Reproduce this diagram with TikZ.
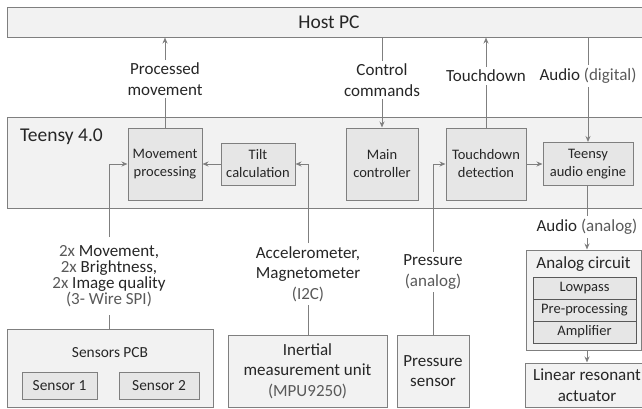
\documentclass[tikz,border=0pt]{standalone}
\usepackage{fontspec}
\setmainfont{Carlito}
\usepackage{xcolor}
\usetikzlibrary{arrows.meta}
\definecolor{linegray}{HTML}{7F7F7F}
\definecolor{fillout}{HTML}{F2F2F2}
\definecolor{fillin}{HTML}{E6E6E6}
\definecolor{txtdark}{HTML}{262626}
\definecolor{txtgray}{HTML}{595959}
\newcommand{\FTit}{\fontsize{19.5}{22}\selectfont}
\newcommand{\FTxt}{\fontsize{17}{20.5}\selectfont}
\newcommand{\FBlk}{\fontsize{14.5}{18}\selectfont}
\newcommand{\FSen}{\fontsize{15.4}{18}\selectfont}
\newcommand{\gtxt}[1]{\textcolor{txtgray}{#1}}

\begin{document}
\begin{tikzpicture}[x=1pt,y=-1pt]
\tikzstyle{marco}=[draw=linegray,fill=fillout,line width=1pt,inner sep=0pt,text=txtdark]
\tikzstyle{bloque}=[draw=linegray,fill=fillin,line width=1pt,inner sep=0pt,align=center,text=txtdark,font=\FBlk]
\tikzstyle{etapa}=[draw=txtgray,fill=fillin,line width=1pt,minimum width=103pt,minimum height=22pt,inner sep=0pt,font=\FBlk,text=txtdark]
\tikzstyle{rotulo}=[align=center,text=txtdark,font=\FTxt,inner sep=3pt]
\tikzstyle{flecha}=[linegray,line width=1pt,-{Stealth[length=6pt,width=5pt]}]

\useasboundingbox (0,0) rectangle (642,408);
\clip (0,0) rectangle (642,408);

% host and teensy
\node[marco,minimum width=644pt,minimum height=30pt,font=\FTit] (host) at (329,22) {Host PC};
\node[marco,minimum width=644pt,minimum height=91pt] (teensy) at (329,162.5) {};
\node[anchor=west,text=txtdark,font=\FTit,inner sep=0pt] (teensylbl) at (20,137) {Teensy 4.0};

\node[bloque,minimum width=74pt,minimum height=72pt] (mp) at (165,164) {Movement\\processing};
\node[bloque,minimum width=74pt,minimum height=42pt] (tilt) at (258,164) {Tilt\\calculation};
\node[bloque,minimum width=72pt,minimum height=72pt] (mainc) at (382,164) {Main\\controller};
\node[bloque,minimum width=80pt,minimum height=72pt] (td) at (486,164) {Touchdown\\detection};
\node[bloque,minimum width=90pt,minimum height=43pt] (tae) at (588,164) {Teensy\\audio engine};

% sensors
\node[marco,minimum width=206pt,minimum height=78pt] (pcb) at (110,368) {};
\node[text=txtdark,font=\FSen] (pcblbl) at (110,353) {Sensors PCB};
\node[bloque,font=\FSen,minimum width=75pt,minimum height=27pt] (s1) at (59.5,385.5) {Sensor 1};
\node[bloque,font=\FSen,minimum width=80pt,minimum height=27pt] (s2) at (159,385.5) {Sensor 2};
\node[marco,minimum width=159pt,minimum height=72pt,align=center,font=\FTxt] (imu) at (307.5,371) {Inertial\\measurement unit\\\gtxt{(MPU9250)}};
\node[marco,minimum width=72pt,minimum height=72pt,align=center,font=\FTxt] (pres) at (433,371) {Pressure\\sensor};

% analog side
\node[marco,minimum width=115pt,minimum height=100pt] (ac) at (583.5,300) {};
\node[text=txtdark,font=\FTxt] (aclbl) at (583.5,264) {Analog circuit};
\node[etapa] (lowp) at (584.5,288) {Lowpass};
\node[etapa] (prep) at (584.5,310) {Pre-processing};
\node[etapa] (ampl) at (584.5,332) {Amplifier};
\node[marco,minimum width=124pt,minimum height=44pt,align=center,font=\FTxt] (lra) at (587,385) {Linear resonant\\actuator};

% labels
\node[rotulo] (pmlbl) at (165,79) {Processed\\movement};
\node[rotulo] (cclbl) at (382,80) {Control\\commands};
\node[rotulo] (tdlbl) at (486,76) {Touchdown};
\node[rotulo] (adlbl) at (588,76) {Audio \gtxt{(digital)}};
\node[rotulo,font=\fontsize{17}{16}\selectfont,inner ysep=8pt] (senslbl) at (109,276) {\gtxt{2x} Movement,\\\gtxt{2x} Brightness,\\\gtxt{2x} Image quality\\\gtxt{(3- Wire SPI)}};
\node[rotulo] (imulbl) at (308,274) {Accelerometer,\\Magnetometer\\\gtxt{(I2C)}};
\node[rotulo] (pslbl) at (433,272) {Pressure\\\gtxt{(analog)}};
\node[rotulo] (aalbl) at (587,227) {Audio \gtxt{(analog)}};

% connectors
\draw[flecha] (mp.north) -- (pmlbl) -- (pmlbl |- host.south);
\draw[flecha] (host.south -| cclbl) -- (cclbl) -- (mainc.north);
\draw[flecha] (td.north) -- (tdlbl) -- (tdlbl |- host.south);
\draw[flecha] (host.south -| adlbl) -- (adlbl) -- (tae.north);
\draw[flecha] (tilt.west) -- (mp.east);
\draw[flecha] (td.east) -- (tae.west);
\draw[flecha] (pcb.north -| senslbl) -- (senslbl) -- (senslbl |- mp.west) -- (mp.west);
\draw[flecha] (imu.north -| imulbl) -- (imulbl) -- (imulbl |- tilt.east) -- (tilt.east);
\draw[flecha] (pres.north) -- (pslbl) -- (pslbl |- td.west) -- (td.west);
\draw[flecha] (tae.south -| aalbl) -- (aalbl) -- (aalbl |- ac.north);
\draw[flecha] (aalbl |- ac.south) -- (aalbl |- lra.north);
\end{tikzpicture}
\end{document}
